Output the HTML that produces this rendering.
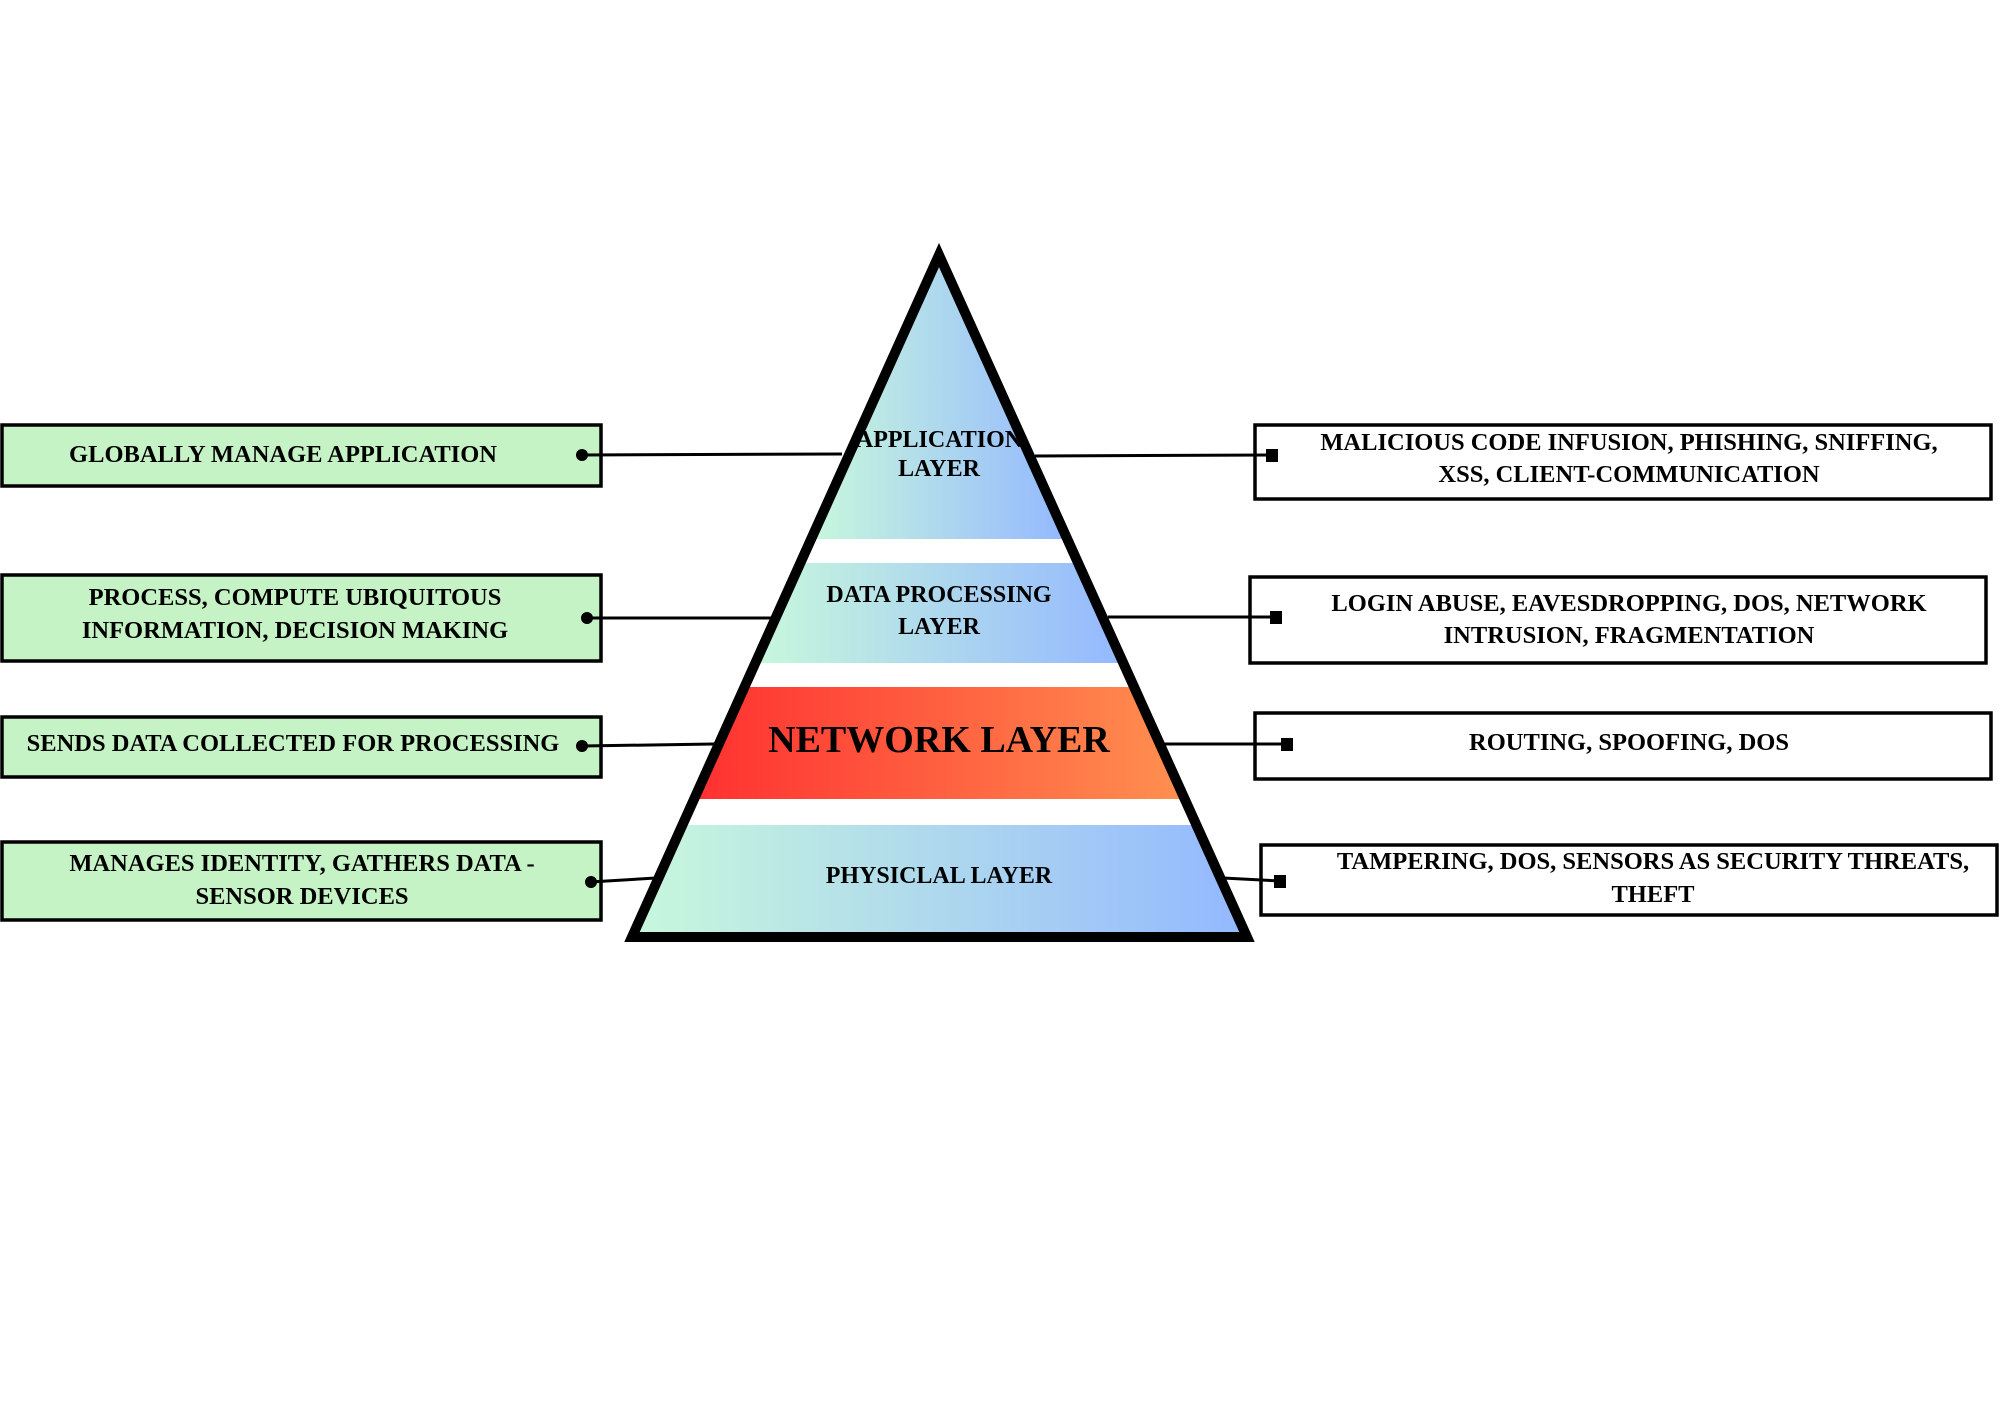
<!DOCTYPE html>
<html><head><meta charset="utf-8"><style>
html,body{margin:0;padding:0;background:#fff;}
svg{display:block;}
text{font-family:"Liberation Serif",serif;font-weight:bold;fill:#000;}
</style></head><body>
<svg width="2000" height="1414" viewBox="0 0 2000 1414" xmlns="http://www.w3.org/2000/svg">
<defs>
<linearGradient id="g1" x1="0" y1="0" x2="1" y2="0"><stop offset="0" stop-color="#c8f8dc"/><stop offset="1" stop-color="#94b8ff"/></linearGradient>
<linearGradient id="g2" x1="0" y1="0" x2="1" y2="0"><stop offset="0" stop-color="#ff3030"/><stop offset="1" stop-color="#ff9050"/></linearGradient>
</defs>
<polygon points="939,252 1067,539 811,539" fill="url(#g1)"/>
<polygon points="800,563 1078,563 1123,663 755,663" fill="url(#g1)"/>
<polygon points="744,687 1134,687 1184,799 694,799" fill="url(#g2)"/>
<polygon points="682,825 1196,825 1246,936 632,936" fill="url(#g1)"/>
<polygon points="939,255 632,937 1247,937" fill="none" stroke="#000" stroke-width="10" stroke-linejoin="miter"/>

<rect x="2" y="425" width="599" height="61" fill="#c6f3c5" stroke="#000" stroke-width="3.5"/>
<rect x="2" y="575" width="599" height="86" fill="#c6f3c5" stroke="#000" stroke-width="3.5"/>
<rect x="2" y="717" width="599" height="60" fill="#c6f3c5" stroke="#000" stroke-width="3.5"/>
<rect x="2" y="842" width="599" height="78" fill="#c6f3c5" stroke="#000" stroke-width="3.5"/>

<text x="283" y="462" font-size="24.5" text-anchor="middle">GLOBALLY MANAGE APPLICATION</text>
<text x="295" y="605" font-size="24.5" text-anchor="middle">PROCESS, COMPUTE UBIQUITOUS</text>
<text x="295" y="638" font-size="24.5" text-anchor="middle">INFORMATION, DECISION MAKING</text>
<text x="293" y="751" font-size="24.5" text-anchor="middle">SENDS DATA COLLECTED FOR PROCESSING</text>
<text x="302" y="871" font-size="24.5" text-anchor="middle">MANAGES IDENTITY, GATHERS DATA -</text>
<text x="302" y="904" font-size="24.5" text-anchor="middle">SENSOR DEVICES</text>

<g stroke="#000" stroke-width="3">
<line x1="582" y1="455" x2="842" y2="454"/>
<line x1="587" y1="618" x2="772" y2="618"/>
<line x1="582" y1="746" x2="714" y2="744"/>
<line x1="590" y1="882" x2="656" y2="878"/>
</g>
<g fill="#000">
<circle cx="582" cy="455" r="6"/>
<circle cx="587" cy="618" r="6"/>
<circle cx="582" cy="746" r="6"/>
<circle cx="591" cy="882" r="6"/>
</g>

<rect x="1255" y="425" width="736" height="74" fill="#fff" stroke="#000" stroke-width="3.5"/>
<rect x="1250" y="577" width="736" height="86" fill="#fff" stroke="#000" stroke-width="3.5"/>
<rect x="1255" y="713" width="736" height="66" fill="#fff" stroke="#000" stroke-width="3.5"/>
<rect x="1261" y="845" width="736" height="70" fill="#fff" stroke="#000" stroke-width="3.5"/>

<text x="1629" y="450" font-size="24.5" text-anchor="middle">MALICIOUS CODE INFUSION, PHISHING, SNIFFING,</text>
<text x="1629" y="482" font-size="24.5" text-anchor="middle">XSS, CLIENT-COMMUNICATION</text>
<text x="1629" y="611" font-size="24.5" text-anchor="middle">LOGIN ABUSE, EAVESDROPPING, DOS, NETWORK</text>
<text x="1629" y="643" font-size="24.5" text-anchor="middle">INTRUSION, FRAGMENTATION</text>
<text x="1629" y="750" font-size="24.5" text-anchor="middle">ROUTING, SPOOFING, DOS</text>
<text x="1653" y="869" font-size="24.5" text-anchor="middle">TAMPERING, DOS, SENSORS AS SECURITY THREATS,</text>
<text x="1653" y="902" font-size="24.5" text-anchor="middle">THEFT</text>

<g stroke="#000" stroke-width="3">
<line x1="1035" y1="456" x2="1272" y2="455"/>
<line x1="1108" y1="617" x2="1276" y2="617"/>
<line x1="1163" y1="744" x2="1287" y2="744"/>
<line x1="1223" y1="878" x2="1280" y2="881"/>
</g>
<g fill="#000">
<rect x="1266" y="449" width="12" height="13"/>
<rect x="1270" y="611" width="12" height="13"/>
<rect x="1281" y="738" width="12" height="13"/>
<rect x="1274" y="875" width="12" height="13"/>
</g>

<text x="939" y="447" font-size="24" text-anchor="middle">APPLICATION</text>
<text x="939" y="476" font-size="24" text-anchor="middle">LAYER</text>
<text x="939" y="602" font-size="24" text-anchor="middle">DATA PROCESSING</text>
<text x="939" y="634" font-size="24" text-anchor="middle">LAYER</text>
<text x="939" y="752" font-size="38" text-anchor="middle">NETWORK LAYER</text>
<text x="939" y="883" font-size="24" text-anchor="middle">PHYSICLAL LAYER</text>
</svg>
</body></html>
